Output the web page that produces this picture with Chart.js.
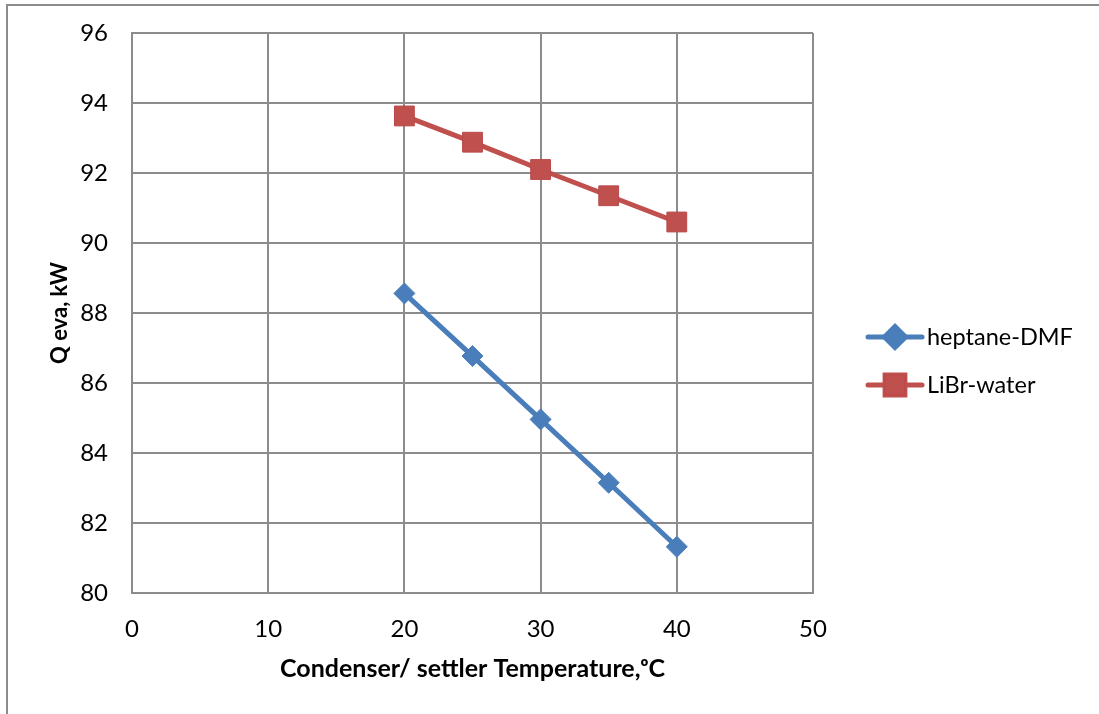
<!DOCTYPE html>
<html>
<head>
<meta charset="utf-8">
<script src="https://cdn.jsdelivr.net/npm/chart.js@4.4.1/dist/chart.umd.min.js"></script>
<style>
  html, body { margin: 0; padding: 0; background: #fff; }
  #wrap { position: relative; width: 1099px; height: 714px; overflow: hidden; }
  #frame { position: absolute; left: 6px; top: 4px; width: 1200px; height: 800px;
           border-left: 2px solid #8c8c8c; border-top: 2px solid #8c8c8c; box-sizing: border-box; pointer-events: none; }
  canvas { position: absolute; left: 0; top: 0; }
</style>
</head>
<body>
<div id="wrap">
  <canvas id="c" width="1099" height="714"></canvas>
  <div id="frame"></div>
</div>
<script>
// ---- data ----
const temperatures = [20, 25, 30, 35, 40];
const heptaneDMF = [88.56, 86.77, 84.96, 83.15, 81.32];
const librWater = [93.63, 92.88, 92.10, 91.35, 90.60];
const seriesNames = ['heptane-DMF', 'LiBr-water'];
const xTitle = 'Condenser/ settler Temperature,\u1D52C';
const yTitle = 'Q eva, kW';

const FONT = 'Lato, "Open Sans", "Liberation Sans", sans-serif';
const BLUE = '#4A7EBB';
const RED = '#C0504D';

const toPoints = (xs, ys) => xs.map((x, i) => ({ x: x, y: ys[i] }));

const legendPlugin = {
  id: 'customLegend',
  afterDraw(chart) {
    const ctx = chart.ctx;
    const x0 = 868, x1 = 922, textX = 927;
    const rows = [337, 385];
    chart.data.datasets.forEach((ds, i) => {
      const y = rows[i];
      ctx.save();
      ctx.strokeStyle = ds.borderColor;
      ctx.lineWidth = ds.borderWidth;
      ctx.lineCap = 'round';
      ctx.beginPath();
      ctx.moveTo(x0, y);
      ctx.lineTo(x1, y);
      ctx.stroke();
      Chart.helpers.drawPoint(ctx, {
        pointStyle: ds.pointStyle,
        radius: ds.pointRadius,
        borderWidth: ds.pointBorderWidth,
        rotation: 0
      }, (x0 + x1) / 2, y);
      ctx.fillStyle = ds.pointBackgroundColor;
      ctx.strokeStyle = ds.pointBorderColor;
      ctx.lineWidth = ds.pointBorderWidth;
      ctx.fill();
      ctx.stroke();
      ctx.fillStyle = '#000';
      ctx.font = '23.5px ' + FONT;
      ctx.textBaseline = 'middle';
      ctx.textAlign = 'left';
      ctx.fillText(ds.label, textX, y);
      ctx.restore();
    });
  }
};

new Chart(document.getElementById('c'), {
  type: 'line',
  data: {
    datasets: [
      {
        label: seriesNames[0],
        data: toPoints(temperatures, heptaneDMF),
        borderColor: BLUE,
        backgroundColor: BLUE,
        borderWidth: 5,
        pointStyle: 'rectRot',
        pointRadius: 10.5,
        pointBackgroundColor: BLUE,
        pointBorderColor: BLUE,
        pointBorderWidth: 1,
        tension: 0
      },
      {
        label: seriesNames[1],
        data: toPoints(temperatures, librWater),
        borderColor: RED,
        backgroundColor: RED,
        borderWidth: 5,
        pointStyle: 'rect',
        pointRadius: 14,
        pointBackgroundColor: RED,
        pointBorderColor: '#B9484A',
        pointBorderWidth: 1,
        tension: 0
      }
    ]
  },
  options: {
    responsive: false,
    animation: false,
    layout: { padding: { left: 0, top: 33, right: 286, bottom: 0 } },
    plugins: { legend: { display: false }, tooltip: { enabled: false } },
    scales: {
      x: {
        type: 'linear',
        min: 0, max: 50,
        ticks: { stepSize: 10, color: '#000', padding: 22, font: { family: FONT, size: 24 } },
        grid: { color: '#8c8c8c', lineWidth: 2, drawTicks: false },
        border: { color: '#8c8c8c', width: 2 },
        title: { display: true, text: xTitle, color: '#000',
                 font: { family: FONT, size: 25, weight: 'bold' }, padding: { top: 0, bottom: 30 } },
        afterFit(scale) { scale.height = 121; }
      },
      y: {
        type: 'linear',
        min: 80, max: 96,
        ticks: { stepSize: 2, color: '#000', padding: 24, font: { family: FONT, size: 24, lineHeight: 0.5 } },
        grid: { color: '#8c8c8c', lineWidth: 2, drawTicks: false },
        border: { color: '#8c8c8c', width: 2 },
        title: { display: true, text: yTitle, color: '#000',
                 font: { family: FONT, size: 22, weight: 'bold' }, padding: { top: 47, bottom: 0 } },
        afterFit(scale) { scale.width = 132; }
      }
    }
  },
  plugins: [legendPlugin]
});
</script>
</body>
</html>
